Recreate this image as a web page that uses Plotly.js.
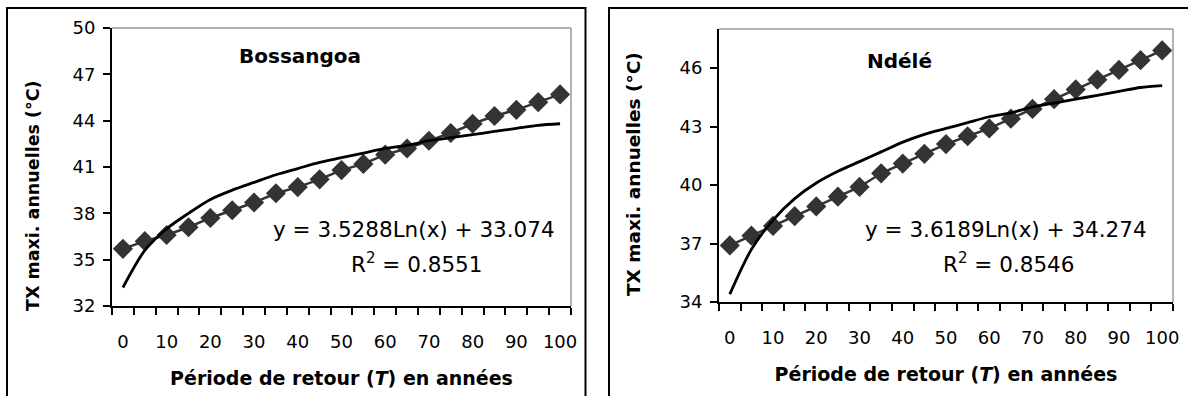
<!DOCTYPE html>
<html><head><meta charset="utf-8">
<script src="https://cdn.plot.ly/plotly-3.0.1.min.js"></script>
<style>html,body{margin:0;padding:0;background:#fff}#chart{width:1188px;height:396px}</style>
</head><body><div id="chart"></div>
<script>
// Return periods (categories, years)
const periods = [0,5,10,15,20,25,30,35,40,45,50,55,60,65,70,75,80,85,90,95,100];
const xTickVals = [0,10,20,30,40,50,60,70,80,90,100];
const xTickText = ['0','10','20','30','40','50','60','70','80','90','100'];

// Bossangoa: annual maximum TX (diamonds) and logarithmic trend curve
const bossangoaObs   = [35.7,36.2,36.6,37.1,37.7,38.2,38.7,39.3,39.7,40.2,40.8,41.2,41.8,42.2,42.7,43.2,43.8,44.3,44.7,45.2,45.7];
const bossangoaTrend = [33.2,35.6,37.0,38.0,38.9,39.5,40.0,40.5,40.9,41.3,41.6,41.9,42.2,42.4,42.7,42.9,43.1,43.3,43.5,43.7,43.8];
const bossangoaYTicks = [32,35,38,41,44,47,50];

// Ndélé
const ndeleObs   = [36.9,37.4,37.9,38.4,38.9,39.4,39.9,40.6,41.1,41.6,42.1,42.5,42.9,43.4,43.9,44.4,44.9,45.4,45.9,46.4,46.9];
const ndeleTrend = [34.4,36.7,38.2,39.3,40.1,40.7,41.2,41.7,42.2,42.6,42.9,43.2,43.5,43.7,44.0,44.2,44.4,44.6,44.8,45.0,45.1];
const ndeleYTicks = [34,37,40,43,46];

const yTitle = 'TX maxi. annuelles (°C)';
const xTitle = 'Période de retour (<i>T</i>) en années';

const FONT = 'DejaVu Sans, Arial, sans-serif';
const W = 1188, H = 396;
const px = v => v / W, py = v => 1 - v / H;

function obsTrace(y, xa, ya) {
  return {x: periods, y: y, xaxis: xa, yaxis: ya, type: 'scatter', mode: 'lines+markers',
    line: {color: '#333333', width: 2.5},
    marker: {symbol: 'diamond', size: 15.5, color: '#333333'}, hoverinfo: 'skip', showlegend: false};
}
function trendTrace(y, xa, ya) {
  return {x: periods, y: y, xaxis: xa, yaxis: ya, type: 'scatter', mode: 'lines',
    line: {color: '#000000', width: 2.8, shape: 'spline', smoothing: 0.8}, hoverinfo: 'skip', showlegend: false};
}

const data = [
  obsTrace(bossangoaObs, 'x', 'y'), trendTrace(bossangoaTrend, 'x', 'y'),
  obsTrace(ndeleObs, 'x2', 'y2'), trendTrace(ndeleTrend, 'x2', 'y2')
];

function xAxis(domain, anchor) {
  return {domain: domain, anchor: anchor, range: [-2.5, 102.5], tickmode: 'array',
    tickvals: xTickVals, ticktext: xTickText, ticks: '', showgrid: false, zeroline: false,
    showline: true, linecolor: '#000', linewidth: 2, ticklabelstandoff: 18,
    tickfont: {family: FONT, size: 18, color: '#000'},
    minor: {tick0: 2.5, dtick: 5, ticks: 'outside', ticklen: 7, tickwidth: 2, tickcolor: '#000', showgrid: false},
    title: {text: xTitle, font: {family: FONT, size: 19, color: '#000', weight: 'bold'}, standoff: 21},
    fixedrange: true};
}
function yAxis(domain, anchor, range, ticks) {
  return {domain: domain, anchor: anchor, range: range, tickmode: 'array', tickvals: ticks,
    ticks: 'outside', ticklen: 7, tickwidth: 2, tickcolor: '#000', showgrid: false, zeroline: false,
    showline: true, linecolor: '#000', linewidth: 2, ticklabelstandoff: 4,
    tickfont: {family: FONT, size: 18, color: '#000'},
    fixedrange: true};
}

function ann(x, y, text, size, extra) {
  return Object.assign({xref: 'paper', yref: 'paper', x: px(x), y: py(y), xanchor: 'center', yanchor: 'middle',
    text: text, showarrow: false, font: {family: FONT, size: size, color: '#000'}}, extra || {});
}

const layout = {
  width: W, height: H, margin: {l: 0, r: 0, t: 0, b: 0},
  paper_bgcolor: '#fff', plot_bgcolor: '#fff', showlegend: false,
  xaxis: xAxis([px(112), px(571)], 'y'),
  yaxis: yAxis([py(306), py(28)], 'x', [32, 50], bossangoaYTicks),
  xaxis2: xAxis([px(719), px(1173)], 'y2'),
  yaxis2: yAxis([py(302), py(29)], 'x2', [34, 48], ndeleYTicks),
  shapes: [
    // outer chart frames
    {type: 'rect', xref: 'paper', yref: 'paper', x0: px(7), x1: px(585.5), y0: -0.05, y1: py(8), line: {color: '#000', width: 2}},
    {type: 'rect', xref: 'paper', yref: 'paper', x0: px(609), x1: 1.05, y0: -0.05, y1: py(8), line: {color: '#000', width: 2}},
    // grey top/right plot-area borders
    {type: 'line', xref: 'x domain', yref: 'y domain', x0: 0, x1: 1, y0: 1, y1: 1, line: {color: '#999', width: 1.5}},
    {type: 'line', xref: 'x domain', yref: 'y domain', x0: 1, x1: 1, y0: 0, y1: 1, line: {color: '#999', width: 1.5}},
    {type: 'line', xref: 'x2 domain', yref: 'y2 domain', x0: 0, x1: 1, y0: 1, y1: 1, line: {color: '#999', width: 1.5}},
    {type: 'line', xref: 'x2 domain', yref: 'y2 domain', x0: 1, x1: 1, y0: 0, y1: 1, line: {color: '#999', width: 1.5}}
  ],
  annotations: [
    ann(33, 196, '<b>' + yTitle + '</b>', 17.5, {textangle: -90}),
    ann(633, 174, '<b>' + yTitle + '</b>', 18.5, {textangle: -90}),
    ann(300, 56, '<b>Bossangoa</b>', 20),
    ann(899, 61, '<b>Ndélé</b>', 20),
    ann(414, 229, 'y = 3.5288Ln(x) + 33.074', 21.5),
    ann(416, 263, 'R<sup>2</sup> = 0.8551', 21.5),
    ann(1006, 229, 'y = 3.6189Ln(x) + 34.274', 21.5),
    ann(1008, 263, 'R<sup>2</sup> = 0.8546', 21.5)
  ]
};

Plotly.newPlot('chart', data, layout, {staticPlot: true, displayModeBar: false});
</script></body></html>
